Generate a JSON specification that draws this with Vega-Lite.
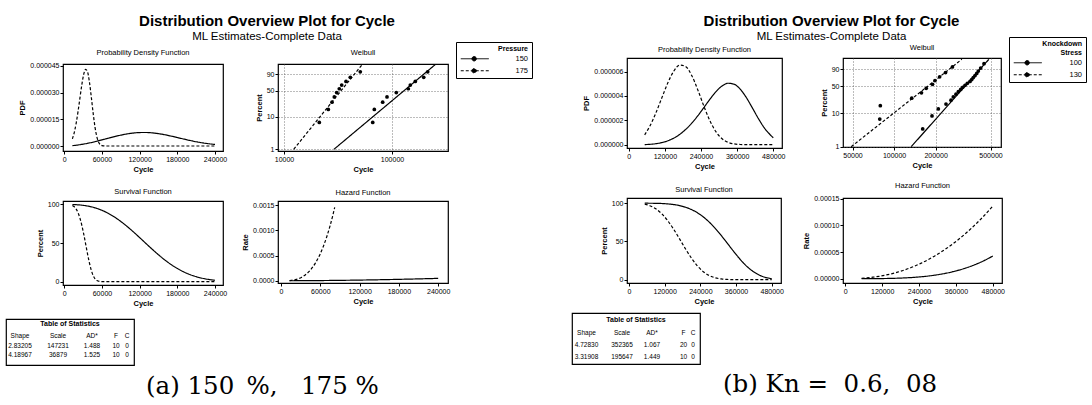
{
"$schema": "https://vega.github.io/schema/vega-lite/v6.json",
"background": "white",
"padding": {"left": 5, "top": 13, "right": 0, "bottom": 0},
"datasets": {
"a_curves": [
{"s":"150","x":13000,"pdf":2.252e-7,"surv":99.897,"haz":2.254e-7},
{"s":"150","x":20000,"pdf":4.946e-7,"surv":99.650,"haz":4.963e-7},
{"s":"150","x":30000,"pdf":1.0318e-6,"surv":98.901,"haz":1.0432e-6},
{"s":"150","x":40000,"pdf":1.7236e-6,"surv":97.535,"haz":1.7671e-6},
{"s":"150","x":50000,"pdf":2.5377e-6,"surv":95.413,"haz":2.6597e-6},
{"s":"150","x":60000,"pdf":3.4332e-6,"surv":92.432,"haz":3.7143e-6},
{"s":"150","x":70000,"pdf":4.3616e-6,"surv":88.536,"haz":4.9264e-6},
{"s":"150","x":80000,"pdf":5.2672e-6,"surv":83.717,"haz":6.2917e-6},
{"s":"150","x":90000,"pdf":6.0916e-6,"surv":78.029,"haz":7.8068e-6},
{"s":"150","x":100000,"pdf":6.7782e-6,"surv":71.581,"haz":9.4693e-6},
{"s":"150","x":110000,"pdf":7.2772e-6,"surv":64.537,"haz":1.1276e-5},
{"s":"150","x":120000,"pdf":7.5514e-6,"surv":57.100,"haz":1.32248e-5},
{"s":"150","x":130000,"pdf":7.5821e-6,"surv":49.513,"haz":1.53132e-5},
{"s":"150","x":140000,"pdf":7.3698e-6,"surv":42.017,"haz":1.75401e-5},
{"s":"150","x":150000,"pdf":6.9358e-6,"surv":34.848,"haz":1.99033e-5},
{"s":"150","x":160000,"pdf":6.3189e-6,"surv":28.208,"haz":2.24013e-5},
{"s":"150","x":170000,"pdf":5.5711e-6,"surv":22.255,"haz":2.50327e-5},
{"s":"150","x":180000,"pdf":4.75e-6,"surv":17.089,"haz":2.77963e-5},
{"s":"150","x":190000,"pdf":3.9151e-6,"surv":12.757,"haz":3.06906e-5},
{"s":"150","x":200000,"pdf":3.1176e-6,"surv":9.247,"haz":3.37145e-5},
{"s":"150","x":210000,"pdf":2.3961e-6,"surv":6.499,"haz":3.68667e-5},
{"s":"150","x":220000,"pdf":1.7754e-6,"surv":4.422,"haz":4.01467e-5},
{"s":"150","x":230000,"pdf":1.2678e-6,"surv":2.911,"haz":4.3553e-5},
{"s":"150","x":240000,"pdf":8.711e-7,"surv":1.850,"haz":4.70842e-5},
{"s":"175","x":13000,"pdf":4.0316e-6,"surv":98.741,"haz":4.083e-6},
{"s":"175","x":16000,"pdf":7.6821e-6,"surv":97.022,"haz":7.9179e-6},
{"s":"175","x":19000,"pdf":1.28739e-5,"surv":93.977,"haz":1.3699e-5},
{"s":"175","x":22000,"pdf":1.94948e-5,"surv":89.153,"haz":2.18667e-5},
{"s":"175","x":25000,"pdf":2.70186e-5,"surv":82.188,"haz":3.28744e-5},
{"s":"175","x":28000,"pdf":3.44239e-5,"surv":72.949,"haz":4.71893e-5},
{"s":"175","x":31000,"pdf":4.0275e-5,"surv":61.688,"haz":6.52881e-5},
{"s":"175","x":34000,"pdf":4.30375e-5,"surv":49.096,"haz":8.76601e-5},
{"s":"175","x":37000,"pdf":4.16516e-5,"surv":36.284,"haz":1.14795e-4},
{"s":"175","x":40000,"pdf":3.61056e-5,"surv":24.527,"haz":1.47204e-4},
{"s":"175","x":43000,"pdf":2.76488e-5,"surv":14.914,"haz":1.85406e-4},
{"s":"175","x":46000,"pdf":1.84186e-5,"surv":8.012,"haz":2.29902e-4},
{"s":"175","x":49000,"pdf":1.04871e-5,"surv":3.729,"haz":2.8123e-4},
{"s":"175","x":52000,"pdf":5.0039e-6,"surv":1.472,"haz":3.39918e-4},
{"s":"175","x":56000,"pdf":1.3634e-6,"surv":0.317,"haz":4.30557e-4},
{"s":"175","x":60000,"pdf":2.472e-7,"surv":0.046,"haz":5.36535e-4},
{"s":"175","x":65000,"pdf":1.49e-8,"surv":0.002,"haz":6.92589e-4},
{"s":"175","x":70000,"pdf":0,"surv":0,"haz":8.77284e-4},
{"s":"175","x":75000,"pdf":0,"surv":0,"haz":1.09321e-3},
{"s":"175","x":80000,"pdf":0,"surv":0,"haz":1.34311e-3},
{"s":"175","x":82000,"pdf":0,"surv":0,"haz":1.45316e-3},
{"s":"175","x":100000,"pdf":0,"surv":0},
{"s":"175","x":140000,"pdf":0,"surv":0},
{"s":"175","x":180000,"pdf":0,"surv":0},
{"s":"175","x":220000,"pdf":0,"surv":0},
{"s":"175","x":240000,"pdf":0,"surv":0}
],
"a_pts": [
{"s":"150","x":66300,"p":6.731},{"s":"150","x":68600,"p":16.346},{"s":"150","x":82000,"p":25.962},{"s":"150","x":89900,"p":35.577},{"s":"150","x":109600,"p":45.192},{"s":"150","x":141600,"p":54.808},{"s":"150","x":147700,"p":64.423},{"s":"150","x":164300,"p":74.038},{"s":"150","x":196600,"p":83.654},{"s":"150","x":214100,"p":93.269},
{"s":"175","x":21230,"p":6.731},{"s":"175","x":25720,"p":16.346},{"s":"175","x":27830,"p":25.962},{"s":"175","x":29230,"p":35.577},{"s":"175","x":30760,"p":45.192},{"s":"175","x":32510,"p":54.808},{"s":"175","x":34220,"p":64.423},{"s":"175","x":37510,"p":74.038},{"s":"175","x":41110,"p":83.654},{"s":"175","x":50870,"p":93.269}
],
"a_fit": [
{"s":"150","x":29013,"p":1},{"s":"150","x":252470,"p":99},
{"s":"175","x":12301,"p":1},{"s":"175","x":53100,"p":99}
],
"a_tab": [
{"r":1,"c":0,"t":"Shape"},{"r":1,"c":1,"t":"Scale"},{"r":1,"c":2,"t":"AD*"},{"r":1,"c":3,"t":"F"},{"r":1,"c":4,"t":"C"},
{"r":2,"c":0,"t":"2.83205"},{"r":2,"c":1,"t":"147231"},{"r":2,"c":2,"t":"1.488"},{"r":2,"c":3,"t":"10"},{"r":2,"c":4,"t":"0"},
{"r":3,"c":0,"t":"4.18967"},{"r":3,"c":1,"t":"36879"},{"r":3,"c":2,"t":"1.525"},{"r":3,"c":3,"t":"10"},{"r":3,"c":4,"t":"0"}
],
"b_curves": [
{"s":"100","x":53000,"pdf":1.149e-8,"surv":99.987,"haz":1.149e-8},
{"s":"100","x":70000,"pdf":3.241e-8,"surv":99.952,"haz":3.242e-8},
{"s":"100","x":90000,"pdf":8.262e-8,"surv":99.843,"haz":8.275e-8},
{"s":"100","x":110000,"pdf":1.7416e-7,"surv":99.594,"haz":1.7487e-7},
{"s":"100","x":130000,"pdf":3.2306e-7,"surv":99.108,"haz":3.2597e-7},
{"s":"100","x":150000,"pdf":5.4605e-7,"surv":98.252,"haz":5.5576e-7},
{"s":"100","x":170000,"pdf":8.5842e-7,"surv":96.864,"haz":8.8621e-7},
{"s":"100","x":190000,"pdf":1.27125e-6,"surv":94.752,"haz":1.34167e-6},
{"s":"100","x":210000,"pdf":1.78692e-6,"surv":91.710,"haz":1.94844e-6},
{"s":"100","x":230000,"pdf":2.39444e-6,"surv":87.543,"haz":2.73518e-6},
{"s":"100","x":250000,"pdf":3.06412e-6,"surv":82.090,"haz":3.73264e-6},
{"s":"100","x":270000,"pdf":3.74364e-6,"surv":75.277,"haz":4.97311e-6},
{"s":"100","x":290000,"pdf":4.35927e-6,"surv":67.156,"haz":6.49131e-6},
{"s":"100","x":310000,"pdf":4.82287e-6,"surv":57.942,"haz":8.32363e-6},
{"s":"100","x":330000,"pdf":5.0468e-6,"surv":48.026,"haz":1.05085e-5},
{"s":"100","x":350000,"pdf":4.96746e-6,"surv":37.959,"haz":1.30863e-5},
{"s":"100","x":370000,"pdf":4.56771e-6,"surv":28.373,"haz":1.6099e-5},
{"s":"100","x":390000,"pdf":3.89361e-6,"surv":19.876,"haz":1.95897e-5},
{"s":"100","x":410000,"pdf":3.04821e-6,"surv":12.913,"haz":2.36051e-5},
{"s":"100","x":430000,"pdf":2.17084e-6,"surv":7.700,"haz":2.8192e-5},
{"s":"100","x":450000,"pdf":1.39085e-6,"surv":4.164,"haz":3.33993e-5},
{"s":"100","x":480000,"pdf":5.6917e-7,"surv":1.340,"haz":4.24851e-5},
{"s":"130","x":53000,"pdf":8.0996e-7,"surv":98.698,"haz":8.2064e-7},
{"s":"130","x":70000,"pdf":1.51363e-6,"surv":96.755,"haz":1.5644e-6},
{"s":"130","x":90000,"pdf":2.59693e-6,"surv":92.684,"haz":2.80192e-6},
{"s":"130","x":110000,"pdf":3.84902e-6,"surv":86.252,"haz":4.4625e-6},
{"s":"130","x":130000,"pdf":5.08162e-6,"surv":77.300,"haz":6.57386e-6},
{"s":"130","x":150000,"pdf":6.05549e-6,"surv":66.101,"haz":9.16095e-6},
{"s":"130","x":170000,"pdf":6.54061e-6,"surv":53.409,"haz":1.22462e-5},
{"s":"130","x":190000,"pdf":6.39733e-6,"surv":40.362,"haz":1.585e-5},
{"s":"130","x":210000,"pdf":5.64364e-6,"surv":28.232,"haz":1.99905e-5},
{"s":"130","x":230000,"pdf":4.46177e-6,"surv":18.074,"haz":2.46857e-5},
{"s":"130","x":250000,"pdf":3.13839e-6,"surv":10.478,"haz":2.99528e-5},
{"s":"130","x":270000,"pdf":1.94516e-6,"surv":5.433,"haz":3.58053e-5},
{"s":"130","x":290000,"pdf":1.05281e-6,"surv":2.491,"haz":4.22595e-5},
{"s":"130","x":310000,"pdf":4.9239e-7,"surv":0.998,"haz":4.93276e-5},
{"s":"130","x":330000,"pdf":1.9662e-7,"surv":0.345,"haz":5.70233e-5},
{"s":"130","x":350000,"pdf":6.641e-8,"surv":0.102,"haz":6.53595e-5},
{"s":"130","x":370000,"pdf":1.866e-8,"surv":0.025,"haz":7.43511e-5},
{"s":"130","x":390000,"pdf":4.3e-9,"surv":0.005,"haz":8.40028e-5},
{"s":"130","x":410000,"pdf":8e-10,"surv":0.001,"haz":9.43331e-5},
{"s":"130","x":430000,"pdf":0,"surv":0,"haz":1.05352e-4},
{"s":"130","x":450000,"pdf":0,"surv":0,"haz":1.17065e-4},
{"s":"130","x":480000,"pdf":0,"surv":0,"haz":1.35965e-4}
],
"b_pts": [
{"s":"100","x":161300,"p":3.431},{"s":"100","x":188400,"p":8.333},{"s":"100","x":209300,"p":13.235},{"s":"100","x":237900,"p":18.137},{"s":"100","x":258600,"p":23.039},{"s":"100","x":268800,"p":27.941},{"s":"100","x":281200,"p":32.843},{"s":"100","x":292200,"p":37.745},{"s":"100","x":304100,"p":42.647},{"s":"100","x":314500,"p":47.549},{"s":"100","x":326800,"p":52.451},{"s":"100","x":339600,"p":57.353},{"s":"100","x":355200,"p":62.255},{"s":"100","x":365500,"p":67.157},{"s":"100","x":375300,"p":72.059},{"s":"100","x":386100,"p":76.961},{"s":"100","x":397200,"p":81.863},{"s":"100","x":407900,"p":86.765},{"s":"100","x":424600,"p":91.667},{"s":"100","x":448600,"p":96.569},
{"s":"130","x":78800,"p":6.731},{"s":"130","x":79500,"p":16.346},{"s":"130","x":134300,"p":25.962},{"s":"130","x":158000,"p":35.577},{"s":"130","x":171000,"p":45.192},{"s":"130","x":190000,"p":54.808},{"s":"130","x":198000,"p":64.423},{"s":"130","x":214000,"p":74.038},{"s":"130","x":236000,"p":83.654},{"s":"130","x":265000,"p":93.269}
],
"b_fit": [
{"s":"100","x":133183,"p":1},{"s":"100","x":486700,"p":99},
{"s":"130","x":48933,"p":1},{"s":"130","x":309960,"p":99}
],
"b_tab": [
{"r":1,"c":0,"t":"Shape"},{"r":1,"c":1,"t":"Scale"},{"r":1,"c":2,"t":"AD*"},{"r":1,"c":3,"t":"F"},{"r":1,"c":4,"t":"C"},
{"r":2,"c":0,"t":"4.72830"},{"r":2,"c":1,"t":"352365"},{"r":2,"c":2,"t":"1.067"},{"r":2,"c":3,"t":"20"},{"r":2,"c":4,"t":"0"},
{"r":3,"c":0,"t":"3.31908"},{"r":3,"c":1,"t":"195647"},{"r":3,"c":2,"t":"1.449"},{"r":3,"c":3,"t":"10"},{"r":3,"c":4,"t":"0"}
],
"ttl": [{"r":0,"t":"Table of Statistics"}]
},
"spacing": 37,
"resolve": {"scale": {"strokeDash": "independent"}, "legend": {"strokeDash": "independent"}},
"hconcat": [
{"spacing": 10, "resolve": {"scale": {"strokeDash": "independent"}, "legend": {"strokeDash": "independent"}}, "vconcat": [
 {"columns": 4, "align": "each", "bounds": "flush", "spacing": 0, "resolve": {"scale": {"strokeDash": "independent"}, "legend": {"strokeDash": "independent"}}, "concat": [
  {"width": 57, "height": 21, "data": {"values": []}, "mark": "point", "view": {"stroke": null}},
  {"width": 160, "height": 1, "data": {"values": []}, "mark": "point", "view": {"stroke": null},
   "title": {"text": "Distribution Overview Plot for Cycle", "subtitle": "ML Estimates-Complete Data", "fontSize": 15, "fontWeight": "bold", "subtitleFontSize": 11.5, "subtitleFont": "Liberation Sans", "subtitleColor": "#000", "subtitlePadding": 2, "offset": 1, "anchor": "middle", "dx": 124}},
  {"width": 1, "height": 1, "data": {"values": []}, "mark": "point", "view": {"stroke": null}},
  {"width": 1, "height": 1, "data": {"values": []}, "mark": "point", "view": {"stroke": null}},

  {"width": 57, "height": 1, "data": {"values": []}, "mark": "point", "view": {"stroke": null}},
  {"width": 160, "height": 87, "title": "Probability Density Function", "data": {"name": "a_curves"},
   "mark": {"type": "line", "interpolate": "monotone", "strokeWidth": 1.2, "color": "#000"},
   "encoding": {
    "x": {"field": "x", "type": "quantitative", "scale": {"domain": [-2000, 252700], "nice": false, "zero": false}, "axis": {"values": [0, 60000, 120000, 180000, 240000], "tickCount": 20, "format": "d", "title": "Cycle"}},
    "y": {"field": "pdf", "type": "quantitative", "scale": {"domain": [-0.0000028, 0.000046], "nice": false, "zero": false}, "axis": {"values": [0, 0.000015, 0.00003, 0.000045], "tickCount": 20, "format": ".6f", "title": "PDF"}},
    "strokeDash": {"field": "s", "type": "nominal", "scale": {"domain": ["150", "175"], "range": [[1, 0], [3, 2]]}, "legend": null}}},
  {"width": 55, "height": 1, "data": {"values": []}, "mark": "point", "view": {"stroke": null}},
  {"width": 170, "height": 87, "title": {"text": "Weibull", "frame": "group", "dy": 20},
   "layer": [
    {"data": {"name": "a_fit"}, "transform": [{"calculate": "log(-log(1 - datum.p/100))", "as": "w"}],
     "mark": {"type": "line", "strokeWidth": 1.2, "color": "#000"},
     "encoding": {
      "x": {"field": "x", "type": "quantitative", "scale": {"type": "log", "domain": [8800, 330000], "nice": false}, "axis": {"values": [10000, 100000], "tickCount": 20, "format": "d", "title": "Cycle", "grid": true}},
      "y": {"field": "w", "type": "quantitative", "scale": {"domain": [-4.723, 1.556], "nice": false, "zero": false}, "axis": {"values": [-4.60015, -2.25037, -0.366513, 0.834032], "tickCount": 20, "labelExpr": "format(100*(1-exp(-exp(datum.value))), '.0f')", "title": "Percent", "grid": true}},
      "strokeDash": {"field": "s", "type": "nominal", "scale": {"domain": ["150", "175"], "range": [[1, 0], [3, 2]]},
       "legend": {"title": "Pressure", "orient": "none", "legendX": 178, "legendY": -22, "labelOffset": 49, "symbolType": "M-1,0H13M4.6,0A1.1,1.1 0 1,0 6.8,0A1.1,1.1 0 1,0 4.6,0Z", "symbolSize": 16,
        "encode": {"symbols": {"update": {"fill": {"value": "#000"}, "stroke": {"value": "#000"}}}}}}}},
    {"data": {"name": "a_pts"}, "transform": [{"calculate": "log(-log(1 - datum.p/100))", "as": "w"}],
     "mark": {"type": "point", "filled": true, "size": 14, "color": "#000", "opacity": 1, "shape": "circle"},
     "encoding": {
      "x": {"field": "x", "type": "quantitative"},
      "y": {"field": "w", "type": "quantitative"}}}
   ]},

  {"width": 1, "height": 50, "data": {"values": []}, "mark": "point", "view": {"stroke": null}},
  {"width": 1, "height": 1, "data": {"values": []}, "mark": "point", "view": {"stroke": null}},
  {"width": 1, "height": 1, "data": {"values": []}, "mark": "point", "view": {"stroke": null}},
  {"width": 1, "height": 1, "data": {"values": []}, "mark": "point", "view": {"stroke": null}},

  {"width": 57, "height": 1, "data": {"values": []}, "mark": "point", "view": {"stroke": null}},
  {"width": 160, "height": 84, "title": "Survival Function", "data": {"name": "a_curves"},
   "mark": {"type": "line", "interpolate": "monotone", "strokeWidth": 1.2, "color": "#000"},
   "encoding": {
    "x": {"field": "x", "type": "quantitative", "scale": {"domain": [-2000, 252700], "nice": false, "zero": false}, "axis": {"values": [0, 60000, 120000, 180000, 240000], "tickCount": 20, "format": "d", "title": "Cycle"}},
    "y": {"field": "surv", "type": "quantitative", "scale": {"domain": [-4.3, 104.5], "nice": false, "zero": false}, "axis": {"values": [0, 50, 100], "tickCount": 20, "format": "d", "title": "Percent"}},
    "strokeDash": {"field": "s", "type": "nominal", "scale": {"domain": ["150", "175"], "range": [[1, 0], [3, 2]]}, "legend": null}}},
  {"width": 55, "height": 1, "data": {"values": []}, "mark": "point", "view": {"stroke": null}},
  {"width": 170, "height": 82, "title": "Hazard Function", "data": {"name": "a_curves"},
   "transform": [{"filter": "isValid(datum.haz)"}],
   "mark": {"type": "line", "interpolate": "monotone", "strokeWidth": 1.2, "color": "#000"},
   "encoding": {
    "x": {"field": "x", "type": "quantitative", "scale": {"domain": [-4600, 255000], "nice": false, "zero": false}, "axis": {"values": [0, 60000, 120000, 180000, 240000], "tickCount": 20, "format": "d", "title": "Cycle"}},
    "y": {"field": "haz", "type": "quantitative", "scale": {"domain": [-0.0000446, 0.00158], "nice": false, "zero": false}, "axis": {"values": [0, 0.0005, 0.001, 0.0015], "tickCount": 20, "format": ".4f", "title": "Rate"}},
    "strokeDash": {"field": "s", "type": "nominal", "scale": {"domain": ["150", "175"], "range": [[1, 0], [3, 2]]}, "legend": null}}}
 ]},
 {"width": 128, "height": 46,
  "title": {"text": "(a)\u00a0150\u2002%,\u00a0\u00a0\u00a0175\u00a0%", "orient": "bottom", "anchor": "start", "dx": 140, "font": "DejaVu Serif", "fontSize": 24.5, "fontWeight": "normal", "offset": 10},
  "layer": [
   {"data": {"name": "ttl"}, "mark": {"type": "text", "fontSize": 7, "fontWeight": "bold", "color": "#000"},
    "encoding": {"y": {"field": "r", "type": "quantitative", "scale": {"domain": [0, 1, 2, 3], "range": [5, 17.4, 26.7, 35.7]}, "axis": null}, "text": {"field": "t"}}},
   {"data": {"name": "a_tab"}, "mark": {"type": "text", "fontSize": 6.5, "color": "#000"},
    "encoding": {"x": {"field": "c", "type": "quantitative", "scale": {"domain": [0, 1, 2, 3, 4], "range": [14, 52, 86, 110, 121]}, "axis": null},
     "y": {"field": "r", "type": "quantitative"}, "text": {"field": "t"}}}
  ]}
]},
{"spacing": 6, "resolve": {"scale": {"strokeDash": "independent"}, "legend": {"strokeDash": "independent"}}, "vconcat": [
 {"columns": 4, "align": "each", "bounds": "flush", "spacing": 0, "resolve": {"scale": {"strokeDash": "independent"}, "legend": {"strokeDash": "independent"}}, "concat": [
  {"width": 55, "height": 15, "data": {"values": []}, "mark": "point", "view": {"stroke": null}},
  {"width": 155, "height": 1, "data": {"values": []}, "mark": "point", "view": {"stroke": null},
   "title": {"text": "Distribution Overview Plot for Cycle", "subtitle": "ML Estimates-Complete Data", "fontSize": 15, "fontWeight": "bold", "subtitleFontSize": 11.5, "subtitleFont": "Liberation Sans", "subtitleColor": "#000", "subtitlePadding": 2, "offset": 1, "anchor": "middle", "dx": 127}},
  {"width": 1, "height": 1, "data": {"values": []}, "mark": "point", "view": {"stroke": null}},
  {"width": 1, "height": 1, "data": {"values": []}, "mark": "point", "view": {"stroke": null}},

  {"width": 55, "height": 1, "data": {"values": []}, "mark": "point", "view": {"stroke": null}},
  {"width": 155, "height": 90, "title": "Probability Density Function", "data": {"name": "b_curves"},
   "mark": {"type": "line", "interpolate": "monotone", "strokeWidth": 1.2, "color": "#000"},
   "encoding": {
    "x": {"field": "x", "type": "quantitative", "scale": {"domain": [-5700, 509000], "nice": false, "zero": false}, "axis": {"values": [0, 120000, 240000, 360000, 480000], "tickCount": 20, "format": "d", "title": "Cycle"}},
    "y": {"field": "pdf", "type": "quantitative", "scale": {"domain": [-0.00000027, 0.00000712], "nice": false, "zero": false}, "axis": {"values": [0, 0.000002, 0.000004, 0.000006], "tickCount": 20, "format": ".6f", "title": "PDF"}},
    "strokeDash": {"field": "s", "type": "nominal", "scale": {"domain": ["100", "130"], "range": [[1, 0], [3, 2]]}, "legend": null}}},
  {"width": 61, "height": 1, "data": {"values": []}, "mark": "point", "view": {"stroke": null}},
  {"width": 158, "height": 89, "title": {"text": "Weibull", "frame": "group", "dy": 20},
   "layer": [
    {"data": {"name": "b_fit"}, "transform": [{"calculate": "log(-log(1 - datum.p/100))", "as": "w"}],
     "mark": {"type": "line", "strokeWidth": 1.2, "color": "#000"},
     "encoding": {
      "x": {"field": "x", "type": "quantitative", "scale": {"type": "log", "domain": [42660, 595700], "nice": false}, "axis": {"values": [50000, 100000, 200000, 500000], "tickCount": 20, "format": "d", "title": "Cycle", "grid": true}},
      "y": {"field": "w", "type": "quantitative", "scale": {"domain": [-4.621, 1.617], "nice": false, "zero": false}, "axis": {"values": [-4.60015, -2.25037, -0.366513, 0.834032], "tickCount": 20, "labelExpr": "format(100*(1-exp(-exp(datum.value))), '.0f')", "title": "Percent", "grid": true}},
      "strokeDash": {"field": "s", "type": "nominal", "scale": {"domain": ["100", "130"], "range": [[1, 0], [3, 2]]},
       "legend": {"title": ["Knockdown", "Stress"], "orient": "none", "legendX": 166, "legendY": -21, "labelOffset": 50, "symbolType": "M-1,0H13M4.6,0A1.1,1.1 0 1,0 6.8,0A1.1,1.1 0 1,0 4.6,0Z", "symbolSize": 16,
        "encode": {"symbols": {"update": {"fill": {"value": "#000"}, "stroke": {"value": "#000"}}}}}}}},
    {"data": {"name": "b_pts"}, "transform": [{"calculate": "log(-log(1 - datum.p/100))", "as": "w"}],
     "mark": {"type": "point", "filled": true, "size": 14, "color": "#000", "opacity": 1, "shape": "circle"},
     "encoding": {
      "x": {"field": "x", "type": "quantitative"},
      "y": {"field": "w", "type": "quantitative"}}}
   ]},

  {"width": 1, "height": 50, "data": {"values": []}, "mark": "point", "view": {"stroke": null}},
  {"width": 1, "height": 1, "data": {"values": []}, "mark": "point", "view": {"stroke": null}},
  {"width": 1, "height": 1, "data": {"values": []}, "mark": "point", "view": {"stroke": null}},
  {"width": 1, "height": 1, "data": {"values": []}, "mark": "point", "view": {"stroke": null}},

  {"width": 55, "height": 1, "data": {"values": []}, "mark": "point", "view": {"stroke": null}},
  {"width": 154, "height": 85, "title": "Survival Function", "data": {"name": "b_curves"},
   "mark": {"type": "line", "interpolate": "monotone", "strokeWidth": 1.2, "color": "#000"},
   "encoding": {
    "x": {"field": "x", "type": "quantitative", "scale": {"domain": [-6700, 511300], "nice": false, "zero": false}, "axis": {"values": [0, 120000, 240000, 360000, 480000], "tickCount": 20, "format": "d", "title": "Cycle"}},
    "y": {"field": "surv", "type": "quantitative", "scale": {"domain": [-4.3, 106.8], "nice": false, "zero": false}, "axis": {"values": [0, 50, 100], "tickCount": 20, "format": "d", "title": "Percent"}},
    "strokeDash": {"field": "s", "type": "nominal", "scale": {"domain": ["100", "130"], "range": [[1, 0], [3, 2]]}, "legend": null}}},
  {"width": 61, "height": 1, "data": {"values": []}, "mark": "point", "view": {"stroke": null}},
  {"width": 159, "height": 85, "title": "Hazard Function", "data": {"name": "b_curves"},
   "mark": {"type": "line", "interpolate": "monotone", "strokeWidth": 1.2, "color": "#000"},
   "encoding": {
    "x": {"field": "x", "type": "quantitative", "scale": {"domain": [-7500, 510000], "nice": false, "zero": false}, "axis": {"values": [0, 120000, 240000, 360000, 480000], "tickCount": 20, "format": "d", "title": "Cycle"}},
    "y": {"field": "haz", "type": "quantitative", "scale": {"domain": [-0.0000081, 0.0001513], "nice": false, "zero": false}, "axis": {"values": [0, 0.00005, 0.0001, 0.00015], "tickCount": 20, "format": ".5f", "title": "Rate"}},
    "strokeDash": {"field": "s", "type": "nominal", "scale": {"domain": ["100", "130"], "range": [[1, 0], [3, 2]]}, "legend": null}}}
 ]},
 {"width": 128, "height": 51,
  "title": {"text": "(b)\u00a0Kn\u00a0=\u00a0\u00a00.6,\u00a0\u00a008", "orient": "bottom", "anchor": "start", "dx": 151, "font": "DejaVu Serif", "fontSize": 24.5, "fontWeight": "normal", "offset": 9},
  "layer": [
   {"data": {"name": "ttl"}, "mark": {"type": "text", "fontSize": 7, "fontWeight": "bold", "color": "#000"},
    "encoding": {"y": {"field": "r", "type": "quantitative", "scale": {"domain": [0, 1, 2, 3], "range": [7, 19.7, 32, 44]}, "axis": null}, "text": {"field": "t"}}},
   {"data": {"name": "b_tab"}, "mark": {"type": "text", "fontSize": 6.5, "color": "#000"},
    "encoding": {"x": {"field": "c", "type": "quantitative", "scale": {"domain": [0, 1, 2, 3, 4], "range": [14.5, 50, 80, 111.5, 121]}, "axis": null},
     "y": {"field": "r", "type": "quantitative"}, "text": {"field": "t"}}}
  ]}
]}
],
"config": {
 "view": {"stroke": "#000", "strokeWidth": 1.2},
 "font": "Liberation Sans",
 "title": {"font": "Liberation Sans", "fontSize": 7.5, "fontWeight": "normal", "color": "#000", "offset": 5, "anchor": "middle"},
 "axis": {"domain": false, "grid": false, "labelFont": "Liberation Sans", "labelFontSize": 7, "labelColor": "#000", "tickColor": "#000", "tickSize": 3, "tickWidth": 1, "labelPadding": 1, "labelFlush": false, "labelOverlap": false, "titleFont": "Liberation Sans", "titleFontSize": 7.5, "titleFontWeight": "bold", "titleColor": "#000", "titlePadding": 3, "gridColor": "#555", "gridDash": [1, 2], "gridWidth": 0.8},
 "legend": {"titleFont": "Liberation Sans", "titleFontSize": 7, "titleFontWeight": "bold", "titleColor": "#000", "labelFont": "Liberation Sans", "labelFontSize": 7.5, "labelColor": "#000", "strokeColor": "#000", "fillColor": "#fff", "padding": 3, "titleAnchor": "end", "titlePadding": 3, "symbolStrokeWidth": 1, "symbolStrokeColor": "#000", "symbolFillColor": "#000", "rowPadding": 3}
}
}
